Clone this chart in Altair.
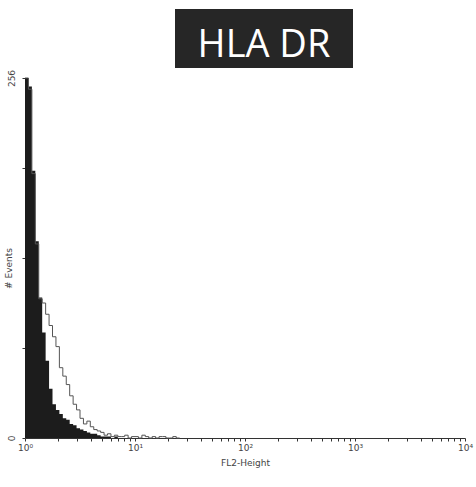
import altair as alt
import pandas as pd

# histogram counts per channel bin (1/32 decade wide, starting at 10^0)
filled_counts = [256, 250, 190, 140, 100, 75, 55, 35, 24, 20, 17, 14, 13, 10, 9, 7,
                 6, 5, 4, 3, 3, 2, 1, 1, 1, 0, 1, 0, 0, 0]
outline_counts = [256, 248, 188, 138, 99, 96, 88, 80, 72, 65, 50, 44, 38, 30, 24, 20,
                  14, 10, 12, 8, 6, 5, 4, 2, 3, 1, 2, 1, 1, 2, 0, 1, 1, 0, 2, 1,
                  0, 1, 0, 1, 1, 0, 0, 1, 0]
bins_per_decade = 32

y_ticks = [0, 64, 128, 192, 256]
x_ticks = [1, 2, 3, 4, 5, 6, 7, 8, 9, 10, 20, 30, 40, 50, 60, 70, 80, 90,
           100, 200, 300, 400, 500, 600, 700, 800, 900,
           1000, 2000, 3000, 4000, 5000, 6000, 7000, 8000, 9000, 10000]
title_text = "HLA DR"
x_title = "FL2-Height"
y_title = "# Events"


def make_df(counts):
    vals = list(counts) + [0]
    return pd.DataFrame({
        "ch": [10 ** (i / bins_per_decade) for i in range(len(vals))],
        "count": vals,
    })


df_fill = make_df(filled_counts)
df_line = make_df(outline_counts)

x_scale = alt.Scale(type="log", domain=[1, 10000], nice=False)
y_scale = alt.Scale(domain=[0, 256], nice=False)

x_axis = alt.Axis(
    values=x_ticks,
    labelExpr="datum.value==1?'10⁰':datum.value==10?'10¹':datum.value==100?'10²':datum.value==1000?'10³':datum.value==10000?'10⁴':''",
    grid=False, tickSize=3, labelFontSize=9, labelColor="#444", labelFont="DejaVu Sans",
    titleFontSize=9, titleColor="#444", titleFont="DejaVu Sans", titleFontWeight="normal",
    domainColor="#333", tickColor="#333", labelPadding=2, titlePadding=6,
    labelFlush=False,
)
y_axis = alt.Axis(
    values=y_ticks,
    labelExpr="datum.value==0||datum.value==256?datum.label:''",
    grid=False, tickSize=3, labelFontSize=9, labelColor="#444", labelFont="DejaVu Sans",
    labelAngle=-90, labelAlign="center", labelBaseline="bottom", labelPadding=6,
    titleFontSize=9, titleColor="#444", titleFont="DejaVu Sans", titleFontWeight="normal",
    titleX=-12, titleY=190, domainColor="#333", tickColor="#333",
)

fill = alt.Chart(df_fill).mark_area(interpolate="step-after", color="#1c1c1c").encode(
    x=alt.X("ch:Q", scale=x_scale, axis=x_axis, title=x_title),
    y=alt.Y("count:Q", scale=y_scale, axis=y_axis, title=y_title),
)
line = alt.Chart(df_line).mark_line(interpolate="step-after", color="#555", strokeWidth=1).encode(
    x=alt.X("ch:Q", scale=x_scale),
    y=alt.Y("count:Q", scale=y_scale),
)

box = alt.Chart(pd.DataFrame({"t": [title_text]})).mark_rect(color="#262626").encode(
    x=alt.value(150), x2=alt.value(328), y=alt.value(-69), y2=alt.value(-10)
)
label = alt.Chart(pd.DataFrame({"t": [title_text]})).mark_text(
    color="white", fontSize=38, font="Open Sans", align="center", baseline="alphabetic"
).encode(text="t:N", x=alt.value(239), y=alt.value(-21))

chart = alt.layer(fill, line, box, label).properties(
    width=440, height=360,
    autosize=alt.AutoSizeParams(type="none"),
    padding={"left": 25, "top": 78, "right": 11, "bottom": 49},
).configure_view(stroke=None)

chart.save("out.html", embed_options={"renderer": "svg", "actions": False})
